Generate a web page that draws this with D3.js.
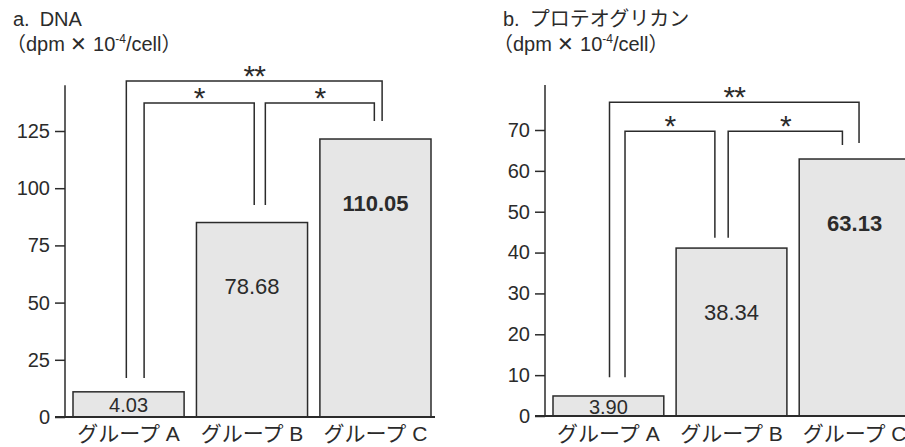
<!DOCTYPE html>
<html>
<head>
<meta charset="utf-8">
<script src="https://cdn.jsdelivr.net/npm/d3@7"></script>
<style>
  body { margin: 0; background: #fff; }
  svg { display: block; }
  text { font-family: "Liberation Sans", "Noto Sans CJK JP", sans-serif; fill: #2b2b2b; }
</style>
</head>
<body>
<div id="chart"></div>
<script>
// groups on the x axis
var groups = ["グループ A", "グループ B", "グループ C"];

// panel a: DNA (bar heights as drawn, printed values)
var dnaBars = [11, 85, 121.5];
var dnaLabels = ["4.03", "78.68", "110.05"];
var dnaTicks = [0, 25, 50, 75, 100, 125];

// panel b: proteoglycan
var pgBars = [4.9, 41.1, 62.9];
var pgLabels = ["3.90", "38.34", "63.13"];
var pgTicks = [0, 10, 20, 30, 40, 50, 60, 70];

// significance brackets (group pairs and marks)
var pairs = [[0, 2], [0, 1], [1, 2]];
var marks = ["**", "*", "*"];

function init() {
    var w = 905, h = 447;
    var ink = "#2b2b2b";

    var svg = d3.select("#chart")
        .append("svg")
        .attr("width", w)
        .attr("height", h);

    var panels = [
        {
            title: "a.\u2002DNA", tx: 13, ux: 6,
            bars: dnaBars, labels: dnaLabels, ticks: dnaTicks,
            axisX: 65, xRange: [73, 431], baseEnd: 435,
            yDomain: [0, 125], yRange: [417, 131], axisTop: 145,
            br: [
                { l: 0.48, r: 0.56, top: 146.9, lb: 17, rb: 129.4 },
                { l: 0.64, r: 0.52, top: 137.2, lb: 17, rb: 92.7 },
                { l: 0.62, r: 0.49, top: 137.2, lb: 92.7, rb: 129.4 }
            ]
        },
        {
            title: "b.\u2002プロテオグリカン", tx: 503, ux: 493,
            bars: pgBars, labels: pgLabels, ticks: pgTicks,
            axisX: 545, xRange: [553, 910], baseEnd: 905,
            yDomain: [0, 70], yRange: [416, 130], axisTop: 81,
            br: [
                { l: 0.51, r: 0.54, top: 76.8, lb: 9.5, rb: 66.8 },
                { l: 0.65, r: 0.35, top: 69.7, lb: 9.5, rb: 43.6 },
                { l: 0.47, r: 0.39, top: 69.7, lb: 43.6, rb: 66.3 }
            ]
        }
    ];

    panels.forEach(function(p) {
        var g = svg.append("g");

        var x = d3.scaleBand()
            .domain(groups)
            .range(p.xRange)
            .paddingInner(0.1)
            .paddingOuter(0);

        var y = d3.scaleLinear()
            .domain(p.yDomain)
            .range(p.yRange);

        // titles
        g.append("text")
            .attr("x", p.tx)
            .attr("y", 26)
            .attr("font-size", 20)
            .text(p.title);

        var unit = g.append("text")
            .attr("x", p.ux)
            .attr("y", 51)
            .attr("font-size", 20);
        unit.append("tspan").text("\uff08dpm \u2715 10");
        unit.append("tspan").attr("font-size", 12).attr("dy", -8).text("-4");
        unit.append("tspan").attr("dy", 8).text("/cell\uff09");

        // bars
        g.selectAll("rect.bar")
            .data(p.bars)
            .enter()
            .append("rect")
            .attr("class", "bar")
            .attr("x", function(d, i) { return x(groups[i]); })
            .attr("y", function(d) { return y(d); })
            .attr("width", x.bandwidth())
            .attr("height", function(d) { return y(0) - y(d); })
            .attr("fill", "#e6e6e6")
            .attr("stroke", ink)
            .attr("stroke-width", 1.5);

        // value labels inside bars
        g.selectAll("text.val")
            .data(p.bars)
            .enter()
            .append("text")
            .attr("class", "val")
            .attr("text-anchor", "middle")
            .attr("dominant-baseline", "central")
            .attr("x", function(d, i) { return x(groups[i]) + x.bandwidth() / 2; })
            .attr("y", function(d) {
                var hh = y(0) - y(d);
                return hh < 60 ? y(d) + hh / 2 + 1 : y(d) + 64;
            })
            .attr("font-size", function(d, i) { return i == 0 ? 20 : 22; })
            .attr("font-weight", function(d, i) { return i == 2 ? "bold" : "normal"; })
            .text(function(d, i) { return p.labels[i]; });

        // y axis
        var axis = g.append("g")
            .attr("transform", "translate(" + p.axisX + ",0)")
            .call(d3.axisLeft(y).tickValues(p.ticks).tickSize(10).tickPadding(5));
        axis.select(".domain").remove();
        axis.selectAll(".tick line").attr("stroke", ink).attr("stroke-width", 1.5);
        axis.selectAll(".tick text")
            .attr("font-size", 20)
            .attr("font-family", null)
            .attr("fill", ink);

        g.append("line")
            .attr("x1", p.axisX).attr("x2", p.axisX)
            .attr("y1", y(0)).attr("y2", y(p.axisTop))
            .attr("stroke", ink).attr("stroke-width", 1.5);

        // baseline
        g.append("line")
            .attr("x1", p.axisX - 10).attr("x2", p.baseEnd)
            .attr("y1", y(0)).attr("y2", y(0))
            .attr("stroke", ink).attr("stroke-width", 1.8);

        // category labels
        g.selectAll("text.cat")
            .data(groups)
            .enter()
            .append("text")
            .attr("class", "cat")
            .attr("text-anchor", "middle")
            .attr("x", function(d) { return x(d) + x.bandwidth() / 2; })
            .attr("y", 441)
            .attr("font-size", 21)
            .text(function(d) { return d; });

        // significance brackets
        pairs.forEach(function(pr, k) {
            var b = p.br[k];
            var x1 = x(groups[pr[0]]) + x.bandwidth() * b.l;
            var x2 = x(groups[pr[1]]) + x.bandwidth() * b.r;
            var path = d3.path();
            path.moveTo(x1, y(b.lb));
            path.lineTo(x1, y(b.top));
            path.lineTo(x2, y(b.top));
            path.lineTo(x2, y(b.rb));
            g.append("path")
                .attr("d", path.toString())
                .attr("fill", "none")
                .attr("stroke", ink)
                .attr("stroke-width", 1.5);

            g.append("text")
                .attr("x", (x1 + x2) / 2)
                .attr("y", y(b.top) + 5)
                .attr("text-anchor", "middle")
                .attr("font-size", 30)
                .attr("letter-spacing", -1)
                .text(marks[k]);
        });
    });
}

window.onload = init;
</script>
</body>
</html>
